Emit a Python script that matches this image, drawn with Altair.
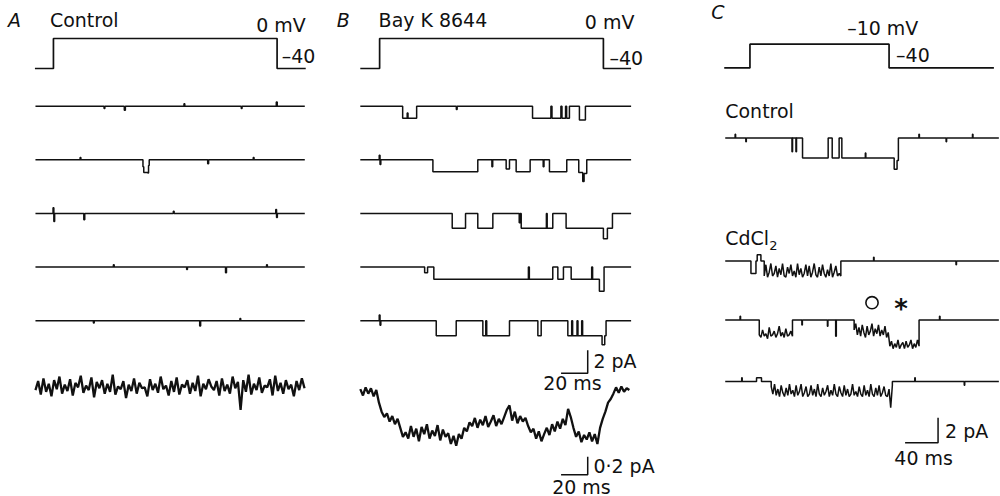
import altair as alt
import pandas as pd

FONT = "DejaVu Sans"
INK = "#111111"

# ---------------- voltage protocols (time ms, potential mV) ----------------
PROTO_A_T = [-13.9, 0.0, 0.0, 167.9, 167.9, 189.4]
PROTO_A_MV = [-40, -40, 0, 0, -40, -40]
PROTO_B_T = [-14.5, 0.0, 0.0, 168.0, 168.0, 188.8]
PROTO_B_MV = [-40, -40, 0, 0, -40, -40]
PROTO_C_T = [-31.2, 0.0, 0.0, 168.8, 168.8, 296.0]
PROTO_C_MV = [-40, -40, -10, -10, -40, -40]

# ---------------- single-channel sweeps: level transitions (ms, pA) ----------------
A_SPAN = (-13.5, 188.7)
A_SWEEPS = [
    [(38.0, -0.2), (38.6, 0.0), (53.2, -0.35), (54.0, 0.0), (98.0, 0.2), (98.6, 0.0),
     (141.0, -0.2), (141.6, 0.0), (167.3, 0.35), (168.0, 0.0)],
    [(20.0, 0.2), (20.6, 0.0), (67.2, -0.6), (67.8, -1.1), (70.8, -1.15), (71.4, -0.5),
     (71.9, 0.0), (115.8, -0.35), (116.5, 0.0), (150.0, 0.2), (150.6, 0.0)],
    [(-0.3, 0.5), (0.3, -0.7), (0.9, 0.0), (22.8, -0.55), (23.5, 0.0), (90.0, 0.2),
     (90.6, 0.0), (166.9, 0.35), (167.5, -0.35), (168.1, 0.0)],
    [(45.0, 0.2), (45.6, 0.0), (100.0, -0.2), (100.6, 0.0), (129.2, -0.5), (129.9, 0.0),
     (160.0, 0.2), (160.6, 0.0)],
    [(30.0, -0.2), (30.6, 0.0), (109.8, -0.45), (110.5, 0.0), (140.0, 0.2), (140.6, 0.0)],
]

B_SPAN = (-14.5, 188.8)
B_SWEEPS = [
    [(17.3, -1.05), (20.7, -0.6), (21.3, -1.05), (27.8, 0.0), (57.6, -0.3), (58.2, 0.0),
     (114.8, -1.05), (128.6, 0.0), (129.4, -1.05), (136.1, 0.0), (136.9, -1.05),
     (139.6, 0.0), (140.4, -1.05), (142.5, 0.0), (150.0, -1.2), (154.5, 0.0)],
    [(-0.3, 0.4), (0.3, -0.4), (0.9, 0.0), (40.0, -1.05), (73.7, 0.0), (84.3, -0.6),
     (84.9, 0.0), (95.0, -0.8), (97.5, 0.0), (102.5, -1.05), (113.0, 0.0), (122.8, -0.6),
     (123.4, 0.0), (127.5, -1.05), (140.5, 0.0), (149.5, -1.1), (152.5, -1.9),
     (153.5, -1.2), (155.5, 0.0)],
    [(54.5, -1.3), (64.5, 0.0), (73.7, -1.3), (85.0, 0.0), (104.8, -0.8), (105.4, 0.0),
     (106.3, -1.3), (125.2, 0.0), (125.8, -1.3), (130.0, 0.0), (140.0, -1.3),
     (168.0, -2.2), (171.0, -1.3), (174.8, 0.0)],
    [(33.8, -0.5), (36.0, 0.0), (40.7, -1.05), (111.7, 0.0), (112.4, -1.05), (130.0, 0.0),
     (133.8, -1.05), (138.0, 0.0), (143.8, -1.05), (159.2, 0.0), (159.9, -1.05),
     (165.0, -2.1), (168.5, 0.0)],
    [(-0.3, 0.5), (0.3, -0.4), (0.9, 0.0), (42.5, -1.3), (57.5, 0.0), (77.5, -1.3),
     (79.7, 0.0), (80.4, -1.3), (97.5, 0.0), (118.8, -1.3), (121.3, 0.0), (141.3, -1.3),
     (144.2, 0.0), (144.9, -1.3), (148.2, 0.0), (148.9, -1.3), (151.7, 0.0),
     (152.4, -1.3), (167.0, -2.1), (169.0, -1.3), (170.0, 0.0)],
]

# ---------------- averaged currents (pA), sampled every 2 ms ----------------
AVG_DT = 2.0
A_AVG_T0 = -13.5
A_AVG = [
    0.02, 0.12, -0.03, 0.15, 0.00, 0.09, -0.05, 0.13, 0.03, 0.17,
    -0.02, 0.08, 0.01, 0.14, -0.04, 0.10, 0.05, 0.18, -0.01, 0.07,
    0.02, 0.16, -0.06, 0.11, 0.04, 0.13, -0.02, 0.09, 0.00, 0.19,
    -0.03, 0.06, 0.03, 0.12, -0.07, 0.08, 0.01, 0.15, -0.02, 0.10,
    0.04, 0.05, -0.05, 0.14, 0.02, 0.09, -0.01, 0.17, 0.03, 0.07,
    -0.04, 0.12, 0.00, 0.16, -0.03, 0.08, 0.05, 0.13, -0.02, 0.10,
    0.01, 0.18, -0.05, 0.09, 0.03, 0.14, 0.06, 0.02, 0.12, -0.04,
    0.15, 0.01, 0.08, -0.02, 0.17, 0.04, 0.11, -0.20, 0.13, 0.00,
    0.19, -0.03, 0.09, 0.02, 0.16, -0.01, 0.07, 0.05, 0.14, -0.04,
    0.18, 0.01, 0.10, -0.02, 0.13, 0.03, 0.08, -0.05, 0.12, 0.02,
    0.15, 0.04,
]
B_AVG_T0 = -14.5
B_AVG = [
    0.03, -0.04, 0.05, -0.02, 0.04, -0.05, 0.02,
    -0.12, -0.22, -0.28,
    -0.24, -0.33, -0.27, -0.36, -0.30,
    -0.40, -0.50, -0.45,
    -0.52, -0.38, -0.50, -0.41, -0.55, -0.39, -0.47, -0.36, -0.52, -0.43,
    -0.49, -0.37, -0.54, -0.42, -0.50, -0.46,
    -0.58, -0.49, -0.60,
    -0.47, -0.52, -0.40, -0.44, -0.34, -0.38,
    -0.29, -0.40, -0.31, -0.37, -0.27, -0.39, -0.33, -0.26, -0.38, -0.30, -0.36, -0.28,
    -0.20, -0.15, -0.32, -0.22, -0.35, -0.27, -0.33, -0.29,
    -0.38, -0.45, -0.41, -0.52, -0.44, -0.55, -0.47,
    -0.40, -0.48, -0.36, -0.44, -0.33, -0.41, -0.30, -0.37, -0.19, -0.28,
    -0.40, -0.50, -0.44, -0.56, -0.48, -0.53, -0.45,
    -0.55, -0.47, -0.58, -0.40,
    -0.30, -0.22, -0.12, -0.08, -0.02,
    0.05, -0.01, 0.06, 0.00, 0.04, 0.02,
]

# ---------------- panel C sweeps (ms, pA) ----------------
C_SPAN = (-30.0, 302.0)
C_CONTROL = [(-18.0, 0.3), (-17.4, 0.0), (-5.0, -0.3), (-4.4, 0.0), (51.0, -1.1), (51.7, 0.0),
             (55.8, -1.1), (56.5, 0.0), (63.8, -1.6), (94.9, 0.0), (99.8, -1.6), (108.2, 0.0),
             (111.5, -1.6), (140.0, -1.2), (140.6, -1.6), (175.0, -2.5), (178.5, -1.8),
             (180.1, 0.0), (205.0, 0.3), (205.6, 0.0), (238.0, -0.3), (238.6, 0.0),
             (270.0, 0.3), (270.6, 0.0)]
CD1_STEPS = [(1.2, -1.0), (7.3, 0.0), (8.8, 0.5), (13.3, 0.0), (150.0, 0.3), (150.6, 0.0),
             (250.0, -0.3), (250.6, 0.0)]
CD1_FLICKER = [
    -1.2, -0.3, -1.3, -0.9, -0.2, -1.2, -1.0, -0.4, -1.3, -0.6,
    -1.1, -0.2, -1.2, -1.3, -0.5, -1.0, -0.3, -1.2, -0.8, -1.3,
    -0.2, -1.1, -0.6, -1.3, -1.0, -0.3, -1.2, -0.4, -1.3, -0.9,
    -0.2, -1.1, -1.3, -0.5, -1.2, -0.3, -1.0, -1.3, -0.7, -1.2,
    -0.2, -1.3, -0.9, -0.4, -1.2, -1.0, -1.2,
]
CD1_FLICKER_SPAN = (17.3, 110.3)
CD2_STEPS = [(-12.0, 0.3), (-11.4, 0.0), (63.0, -0.4), (63.6, 0.0), (94.0, -0.5), (94.6, 0.0),
             (104.0, -1.3), (104.8, 0.0), (230.0, 0.3), (230.6, 0.0)]
CD2_FLICKER_1 = [-1.2, -1.4, -0.8, -1.3, -1.1, -1.5, -0.6, -1.3, -1.2, -0.9, -1.4,
                 -1.1, -0.5, -1.3, -1.0, -1.4, -0.7, -1.3, -1.2, -0.9, -1.3]
CD2_FLICKER_1_SPAN = (11.3, 51.6)
CD2_FLICKER_2 = [-0.8, -0.3, -1.2, -0.6, -1.3, -0.4, -1.0, -1.4, -0.5, -1.2, -0.9,
                 -0.3, -1.3, -0.7, -1.1, -0.4, -1.3, -0.8, -1.2, -0.5, -1.4, -1.0,
                 -2.1, -1.7, -2.3, -1.9, -2.2, -1.6, -2.3, -2.0, -1.8, -2.3,
                 -1.7, -2.2, -2.0, -1.6, -2.3, -1.9, -2.2, -1.6, -2.1]
CD2_FLICKER_2_SPAN = (126.4, 205.2)
CD3_STEPS = [(-10.0, 0.3), (-9.4, 0.0), (8.0, 0.3), (14.0, 0.0), (200.0, 0.3), (200.6, 0.0),
             (260.0, -0.3), (260.6, 0.0)]
CD3_FLICKER = [
    -0.4, -1.0, -0.2, -1.1, -0.6, -1.2, -0.3, -0.9, -1.2, -0.5,
    -1.1, -0.2, -1.0, -0.7, -1.2, -0.3, -1.1, -0.8, -0.2, -1.2,
    -0.9, -0.4, -1.2, -1.0, -0.3, -1.1, -0.6, -1.2, -0.2, -1.0,
    -1.2, -0.5, -1.1, -0.8, -0.3, -1.2, -0.7, -1.1, -0.2, -1.0,
    -1.2, -0.4, -0.9, -1.2, -0.3, -1.1, -0.6, -1.2, -1.0, -0.2,
    -1.1, -0.8, -1.2, -0.4, -1.0, -1.2, -0.3, -1.1, -0.7, -1.2,
    -0.2, -1.0, -1.2, -0.5, -1.1, -0.3, -1.2, -0.9, -0.4, -1.1,
    -1.2, -0.6, -2.1, -0.3,
]
CD3_FLICKER_SPAN = (25.8, 172.8)
# times of the two marked events (open circle, asterisk) in the 2nd CdCl2 sweep
MARK_T = [148.1, 183.4]
MARK_SYMBOL = ["circle", "asterisk"]

# ---------------- layout (pixels) ----------------
H = 496
W_A, W_B, W_C = 330, 370, 300


def x_domain(x0, ppu, width):
    return [-x0 / ppu, (width - x0) / ppu]


def y_domain(y_anchor, v_anchor, ppu):
    return [v_anchor - (H - y_anchor) / ppu, v_anchor + y_anchor / ppu]


XA = x_domain(53.5, 4 / 3, W_A)
XB = x_domain(50.0, 4 / 3, W_B)
XC = x_domain(50.7, 0.825, W_C)
MV_AB = y_domain(38.3, 0.0, 0.75)
MV_C = y_domain(44.0, -10.0, 0.79)
PA_AB_PPU = 11.5
PA_AB = y_domain(106.0, 0.0, PA_AB_PPU)
SWEEP_GAP = 53.7 / PA_AB_PPU
AVG_AB = y_domain(392.0, 0.0, 90.0)
PA_C_PPU = 12.5
PA_C = y_domain(138.0, 0.0, PA_C_PPU)
C_BASE_PX = [138.0, 261.0, 320.0, 381.7]
C_OFFSETS = [(138.0 - p) / PA_C_PPU for p in C_BASE_PX]


def build(transitions, span, flickers=()):
    pts, level = [], 0.0
    for t, v in transitions:
        pts += [(t, level), (t, v)]
        level = v
    for (ts, te), vals in flickers:
        n = len(vals)
        pts.append((ts, 0.0))
        pts += [(ts + (te - ts) * k / (n - 1), v) for k, v in enumerate(vals)]
        pts.append((te, 0.0))
    pts.sort(key=lambda p: p[0])
    return [(span[0], 0.0)] + pts + [(span[1], 0.0)]


def sweeps_df(sweeps, offsets):
    rows = []
    for s, (pts, off) in enumerate(zip(sweeps, offsets)):
        for i, (t, v) in enumerate(pts):
            rows.append({"sweep": s, "i": i, "t": t, "v": v + off})
    return pd.DataFrame(rows)


def xenc(dom):
    return alt.X("t:Q", scale=alt.Scale(domain=dom, nice=False, zero=False), axis=None)


def yenc(dom, field="v"):
    return alt.Y(f"{field}:Q", scale=alt.Scale(domain=dom, nice=False, zero=False), axis=None)


def lines(df, xdom, ydom, width=1.5):
    return alt.Chart(df).mark_line(color=INK, strokeWidth=width, strokeJoin="bevel").encode(
        x=xenc(xdom), y=yenc(ydom), detail="sweep:N", order="i:Q")


def proto(ts, mvs, xdom, ydom):
    df = pd.DataFrame({"t": ts, "v": mvs, "i": range(len(ts)), "sweep": 0})
    return lines(df, xdom, ydom, 1.7)


def avg(t0, vals, xdom, ydom):
    df = pd.DataFrame({"t": [t0 + AVG_DT * k for k in range(len(vals))], "v": vals,
                       "i": range(len(vals)), "sweep": 0})
    return lines(df, xdom, ydom, 2.3)


def scalebar(t_corner, v_corner, dt, dv, xdom, ydom):
    df = pd.DataFrame({"t": [t_corner - dt, t_corner, t_corner],
                       "v": [v_corner, v_corner, v_corner + dv], "i": [0, 1, 2], "sweep": 0})
    return lines(df, xdom, ydom, 1.5)


def label(text, x, y, size=19, align="left", style="normal"):
    return alt.Chart(pd.DataFrame({"s": [text]})).mark_text(
        font=FONT, fontSize=size, align=align, baseline="alphabetic", fontStyle=style,
        color=INK).encode(text="s:N", x=alt.value(x), y=alt.value(y))


def panel(layers, width):
    return alt.layer(*layers).properties(width=width, height=H).resolve_scale(y="independent")


# ---------------- panel A ----------------
a_df = sweeps_df([build(s, A_SPAN) for s in A_SWEEPS], [-k * SWEEP_GAP for k in range(5)])
panel_a = panel([
    proto(PROTO_A_T, PROTO_A_MV, XA, MV_AB),
    lines(a_df, XA, PA_AB),
    avg(A_AVG_T0, A_AVG, XA, AVG_AB),
    label("A", 8, 26.7, style="italic"),
    label("Control", 50, 26.7),
    label("0 mV", 306, 31.7, align="right"),
    label("–40", 282, 63.3),
], W_A)

# ---------------- panel B ----------------
b_df = sweeps_df([build(s, B_SPAN) for s in B_SWEEPS], [-k * SWEEP_GAP for k in range(5)])
bar_t = (588.3 - 380.0) / (4 / 3)
panel_b = panel([
    proto(PROTO_B_T, PROTO_B_MV, XB, MV_AB),
    lines(b_df, XB, PA_AB),
    avg(B_AVG_T0, B_AVG, XB, AVG_AB),
    scalebar(bar_t, (106.0 - 373.3) / PA_AB_PPU, 20.0, 2.0, XB, PA_AB),
    scalebar(bar_t, (392.0 - 475.0) / 90.0, 20.0, 0.2, XB, AVG_AB),
    label("B", 7, 26.7, style="italic"),
    label("Bay K 8644", 49, 26.7),
    label("0 mV", 305, 28.3, align="right"),
    label("–40", 280, 65),
    label("2 pA", 264, 368),
    label("20 ms", 243, 390, align="center"),
    label("0·2 pA", 264, 473),
    label("20 ms", 252, 494, align="center"),
], W_B)

# ---------------- panel C ----------------
c_sweeps = [
    build(C_CONTROL, C_SPAN),
    build(CD1_STEPS, C_SPAN, [(CD1_FLICKER_SPAN, CD1_FLICKER)]),
    build(CD2_STEPS, C_SPAN, [(CD2_FLICKER_1_SPAN, CD2_FLICKER_1),
                              (CD2_FLICKER_2_SPAN, CD2_FLICKER_2)]),
    build(CD3_STEPS, C_SPAN, [(CD3_FLICKER_SPAN, CD3_FLICKER)]),
]
c_df = sweeps_df(c_sweeps, C_OFFSETS)
mark_v = C_OFFSETS[2] + 1.38
marks_df = pd.DataFrame({"t": MARK_T, "v": [mark_v] * len(MARK_T), "sym": MARK_SYMBOL})
circle = alt.Chart(marks_df).transform_filter(alt.datum.sym == "circle").mark_point(
    shape="circle", size=150, filled=False, strokeWidth=1.6, color=INK, opacity=1).encode(
    x=xenc(XC), y=yenc(PA_C))
asterisk = alt.Chart(marks_df).transform_filter(alt.datum.sym == "asterisk").mark_text(
    text="*", font=FONT, fontSize=26, fontWeight="bold", baseline="alphabetic", dy=15,
    color=INK).encode(x=xenc(XC), y=yenc(PA_C))
panel_c = panel([
    proto(PROTO_C_T, PROTO_C_MV, XC, MV_C),
    lines(c_df, XC, PA_C, 1.5),
    circle,
    asterisk,
    scalebar((939.0 - 750.7) / 0.825, (138.0 - 443.0) / PA_C_PPU, 40.0, 2.0, XC, PA_C),
    label("C", 12, 19, style="italic"),
    label("–10 mV", 148, 35),
    label("–40", 197, 61.7),
    label("Control", 26, 118.3),
    label("CdCl", 26, 245),
    label("2", 70, 250, size=13),
    label("2 pA", 246, 438),
    label("40 ms", 224.5, 465, align="center"),
], W_C)

chart = alt.hconcat(panel_a, panel_b, panel_c, spacing=0, bounds="flush").properties(
    padding=0, background="white").configure_view(stroke=None)

chart.save("out.html", embed_options={"renderer": "svg", "actions": False})
